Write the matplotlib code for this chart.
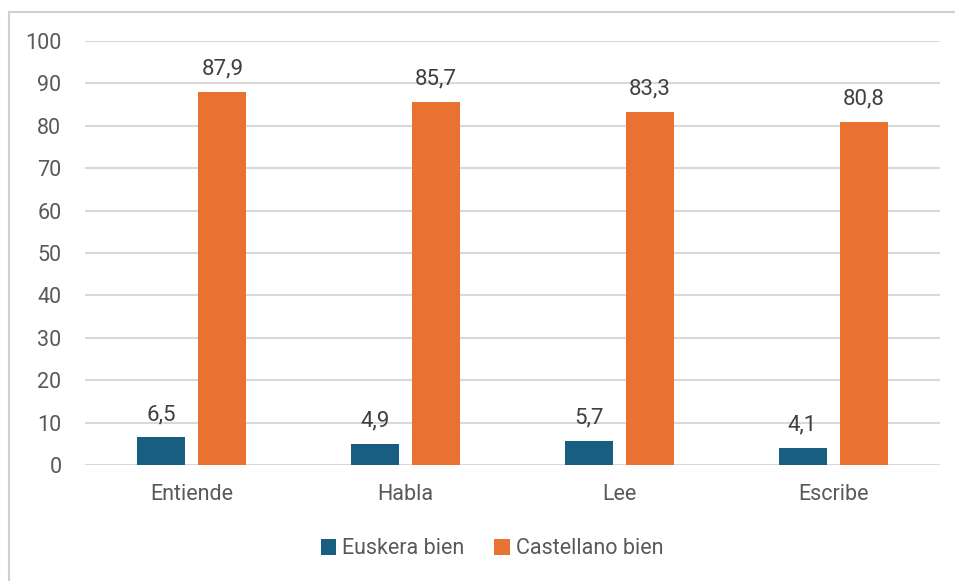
import matplotlib.pyplot as plt
import numpy as np
from matplotlib.patches import Rectangle

categories = ['Entiende', 'Habla', 'Lee', 'Escribe']
euskera = [6.5, 4.9, 5.7, 4.1]
castellano = [87.9, 85.7, 83.3, 80.8]
series_names = ['Euskera bien', 'Castellano bien']
yticks = [0, 10, 20, 30, 40, 50, 60, 70, 80, 90, 100]

blue = '#175e80'
orange = '#e97132'
text_gray = '#595959'
grid_gray = '#d9d9d9'

plt.rcParams['font.family'] = ['Roboto', 'DejaVu Sans']

fig = plt.figure(figsize=(9.55, 5.81), dpi=100)
# light frame around the chart (only left and top edges show)
fig.patches.append(Rectangle((8.5/955, -0.1), 1.2, 1 - 11.5/581 + 0.1,
                             transform=fig.transFigure, fill=False,
                             edgecolor='#d0d0d0', linewidth=1.5))

ax = fig.add_axes([85/955, 1 - 465/581, 855/955, 424/581])
x = np.arange(len(categories))
w = 0.225
off = 0.143
b1 = ax.bar(x - off, euskera, w, color=blue, label=series_names[0], zorder=3)
b2 = ax.bar(x + off, castellano, w, color=orange, label=series_names[1], zorder=3)

for bars, vals in ((b1, euskera), (b2, castellano)):
    for r, v in zip(bars, vals):
        ax.annotate(f'{v:.1f}'.replace('.', ','),
                    (r.get_x() + r.get_width() / 2, v),
                    xytext=(0, 9), textcoords='offset points',
                    ha='center', va='bottom', fontsize=16, color='#404040')

ax.set_xlim(-0.5, len(categories) - 0.5)
ax.set_ylim(0, 100)
ax.set_yticks(yticks)
ax.set_xticks(x)
ax.set_xticklabels(categories)
ax.tick_params(length=0, labelsize=15.5, colors=text_gray)
ax.tick_params(axis='y', pad=17)
ax.tick_params(axis='x', pad=14)
ax.yaxis.grid(True, color=grid_gray, linewidth=1.5, zorder=0)
ax.set_axisbelow(True)
for s in ax.spines.values():
    s.set_visible(False)

leg = fig.legend(handles=[b1, b2], loc='center', bbox_to_anchor=(492/955, 1 - 549/581),
                 ncol=2, frameon=False, fontsize=15.5, handlelength=0.7, handleheight=0.7,
                 handletextpad=0.3, columnspacing=1.4)
for t in leg.get_texts():
    t.set_color(text_gray)

fig.savefig('out.png', dpi=100)
